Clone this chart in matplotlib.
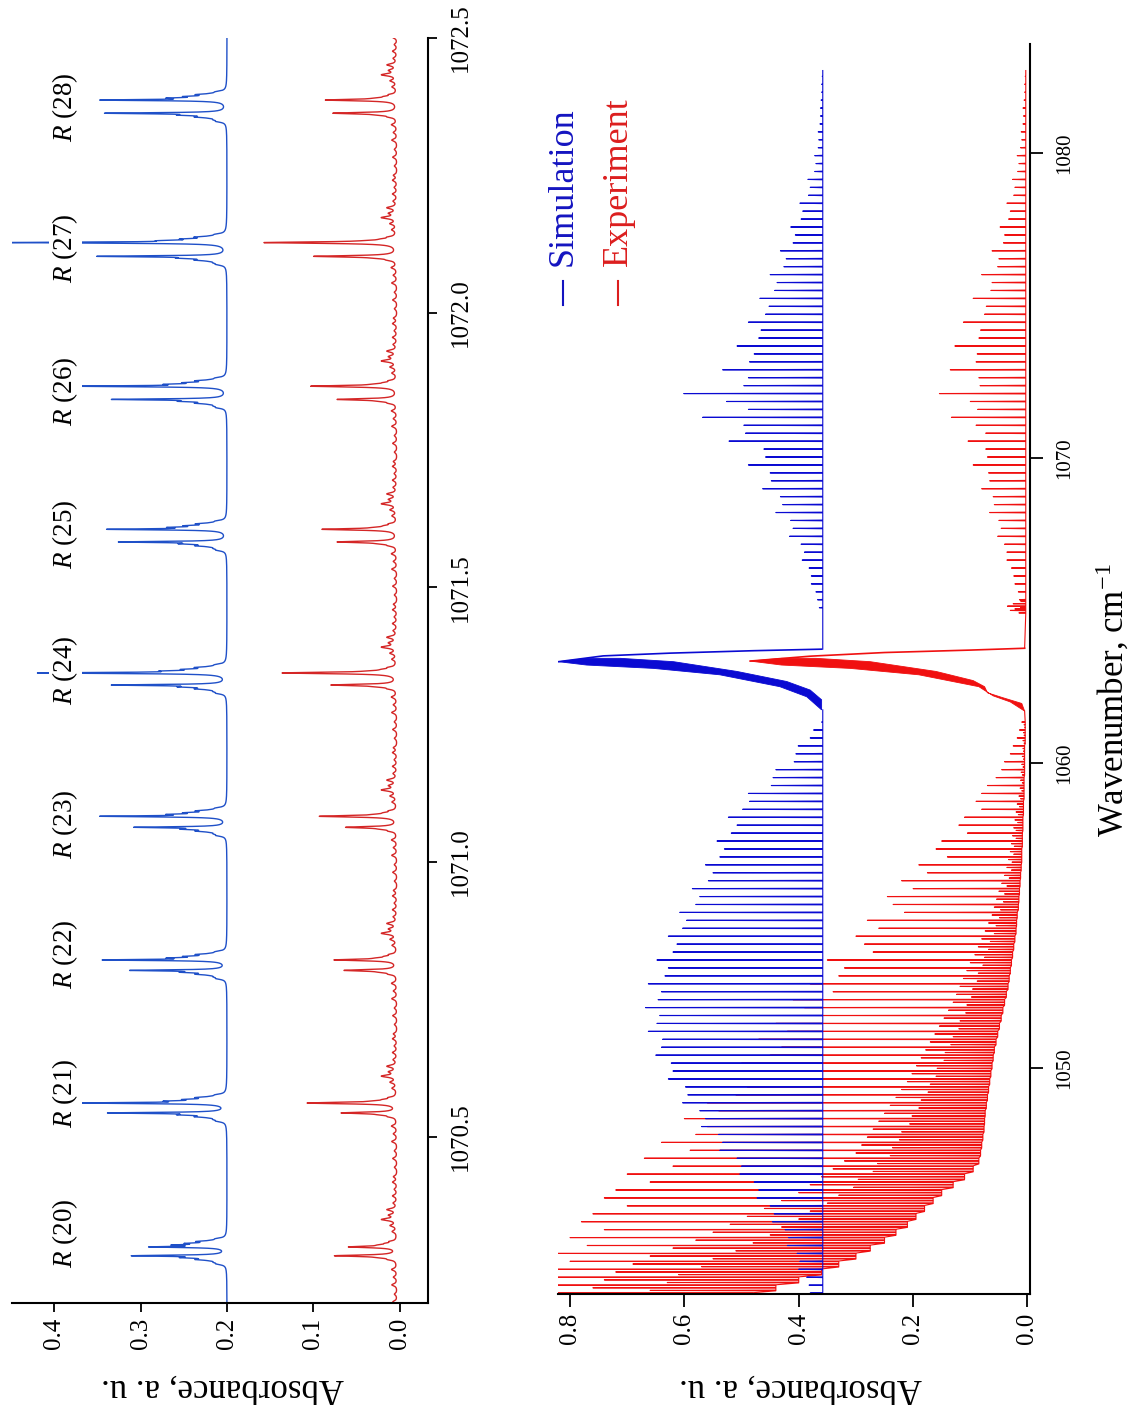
import numpy as np
import matplotlib
matplotlib.use("Agg")
import matplotlib.pyplot as plt
from matplotlib.lines import Line2D

plt.rcParams['font.family'] = ['Liberation Serif', 'DejaVu Serif']
plt.rcParams['mathtext.fontset'] = 'custom'
plt.rcParams['mathtext.rm'] = 'Liberation Serif'
plt.rcParams['mathtext.it'] = 'Liberation Serif:italic'

# ===================== DATA : zoomed panel R(20)..R(28) =====================
R_LABELS = ['20', '21', '22', '23', '24', '25', '26', '27', '28']
R_CENTER_WN = [1070.291, 1070.552, 1070.812, 1071.073, 1071.333,
               1071.594, 1071.854, 1072.115, 1072.375]
LABEL_WN = [1070.323, 1070.578, 1070.831, 1071.069, 1071.349,
            1071.597, 1071.857, 1072.118, 1072.374]
R_SPLIT = [0.016, 0.018, 0.019, 0.020, 0.022, 0.023, 0.024, 0.025, 0.024]
SIM_ZOOM_OFFSET = 0.2
SIM_A_H = [0.081, 0.164, 0.135, 0.138, 0.210, 0.130, 0.168, 0.243, 0.138]
SIM_B_H = [0.103, 0.130, 0.105, 0.100, 0.126, 0.118, 0.126, 0.143, 0.134]
EXP_ZOOM_BASE = 0.003
EXP_A_H = [0.053, 0.101, 0.070, 0.087, 0.130, 0.084, 0.097, 0.151, 0.080]
EXP_B_H = [0.070, 0.062, 0.059, 0.057, 0.074, 0.067, 0.067, 0.094, 0.072]
SAT_HI_OFF = [0.0035, 0.0065, 0.010]
SAT_HI_H = [0.040, 0.026, 0.018]
EXP_SAT_HI_H = [0.012, 0.008, 0.006]
SAT_LO_OFF = [0.0035, 0.007]
SAT_LO_H = [0.030, 0.018]
EXP_SAT_LO_H = [0.010, 0.006]
PED_OFF = [0.003, 0.006, 0.009, 0.012, 0.015]
PED_H = 0.008
NOISE_OFF = [-0.125, -0.108, -0.092, -0.078, -0.061, -0.047, -0.033,
             0.036, 0.047, 0.058, 0.066, 0.076, 0.088, 0.101, 0.113, 0.126]
NOISE_H = [0.004, 0.003, 0.005, 0.003, 0.006, 0.004, 0.006,
           0.005, 0.007, 0.017, 0.008, 0.011, 0.004, 0.005, 0.003, 0.005]

# ===================== DATA : survey panel =====================
SPEC_WN_RANGE = (1042.55, 1082.70)
SIM_BASE = 0.358
EXP_R_BASE = 0.003

# R branch (J = 0..67)
R_J = list(range(68))
R_ORIGIN, R_SPACING = 1065.09, 0.26
SIM_R_H = [0.006, 0.009, 0.012, 0.020, 0.020, 0.024, 0.036, 0.032, 0.038, 0.058,
           0.052, 0.056, 0.082, 0.070, 0.074, 0.105, 0.090, 0.092, 0.130, 0.100,
           0.103, 0.164, 0.135, 0.138, 0.210, 0.130, 0.168, 0.243, 0.138,
           0.130, 0.175, 0.128, 0.120, 0.150, 0.112, 0.108, 0.130, 0.100, 0.094, 0.110,
           0.084, 0.080, 0.092, 0.068, 0.064, 0.074, 0.052, 0.048, 0.056, 0.038,
           0.035, 0.040, 0.025, 0.022, 0.026, 0.014, 0.012, 0.014, 0.008, 0.007,
           0.008, 0.005, 0.004, 0.004, 0.003, 0.002, 0.002, 0.001]
EXP_R_TOP = [0.012, 0.014, 0.016, 0.022, 0.024, 0.028, 0.036, 0.036, 0.040, 0.052,
             0.046, 0.050, 0.066, 0.058, 0.060, 0.080, 0.066, 0.068, 0.095, 0.070,
             0.073, 0.104, 0.073, 0.090, 0.133, 0.087, 0.100, 0.154, 0.083,
             0.085, 0.135, 0.090, 0.088, 0.127, 0.085, 0.082, 0.112, 0.075, 0.072, 0.095,
             0.064, 0.062, 0.080, 0.052, 0.050, 0.062, 0.042, 0.040, 0.048, 0.033,
             0.030, 0.036, 0.024, 0.022, 0.026, 0.017, 0.015, 0.018, 0.012, 0.010,
             0.011, 0.008, 0.007, 0.008, 0.006, 0.005, 0.005, 0.004]
EXP_BUMP_WN = [1064.92, 1065.00, 1065.05, 1065.14, 1065.22, 1065.31]
EXP_BUMP_H = [0.015, 0.030, 0.022, 0.035, 0.025, 0.012]

# P branch (73 lines, going down from the Q branch)
P_FIRST, P_SPACING = 1061.34, 0.26
SIM_P_H = [0.002, 0.016, 0.022, 0.043, 0.047, 0.050, 0.082, 0.087, 0.090, 0.130,
           0.128, 0.140, 0.165, 0.150, 0.160, 0.185, 0.172, 0.180, 0.205, 0.192,
           0.200, 0.228, 0.215, 0.222, 0.250, 0.238, 0.245, 0.270, 0.255, 0.262,
           0.290, 0.270, 0.276, 0.305, 0.282, 0.288, 0.310, 0.285, 0.290, 0.305,
           0.280, 0.282, 0.292, 0.265, 0.262, 0.270, 0.240, 0.236, 0.245, 0.215,
           0.205, 0.212, 0.182, 0.175, 0.180, 0.150, 0.142, 0.145, 0.120, 0.112,
           0.115, 0.092, 0.085, 0.088, 0.066, 0.060, 0.062, 0.045, 0.040, 0.042,
           0.028, 0.024, 0.022]
EXP_P_TOP = [0.010, 0.014, 0.018, 0.025, 0.030, 0.040, 0.045, 0.055, 0.070, 0.080,
             0.090, 0.080, 0.110, 0.120, 0.105, 0.150, 0.160, 0.140, 0.190, 0.175,
             0.220, 0.200, 0.245, 0.235, 0.215, 0.280, 0.260, 0.300, 0.285, 0.270,
             0.350, 0.320, 0.330, 0.380, 0.340, 0.410, 0.390, 0.360, 0.440, 0.420,
             0.470, 0.430, 0.450, 0.500, 0.460, 0.530, 0.490, 0.510, 0.560, 0.540,
             0.600, 0.560, 0.580, 0.640, 0.590, 0.670, 0.620, 0.700, 0.660, 0.720,
             0.740, 0.700, 0.760, 0.780, 0.740, 0.800, 0.770, 0.830, 0.800, 0.840,
             0.850, 0.830, 0.860]
EXP_P_HOT1 = [0.006, 0.007, 0.008, 0.008, 0.009, 0.010, 0.011, 0.012, 0.013, 0.015,
              0.018, 0.020, 0.022, 0.024, 0.026, 0.028, 0.030, 0.033, 0.036, 0.040,
              0.045, 0.050, 0.054, 0.058, 0.062, 0.068, 0.074, 0.080, 0.086, 0.092,
              0.100, 0.106, 0.112, 0.118, 0.124, 0.130, 0.138, 0.146, 0.154, 0.162,
              0.170, 0.178, 0.186, 0.194, 0.202, 0.210, 0.220, 0.230, 0.240, 0.250,
              0.260, 0.270, 0.280, 0.290, 0.300, 0.320, 0.340, 0.360, 0.380, 0.400,
              0.430, 0.460, 0.490, 0.520, 0.550, 0.580, 0.620, 0.660, 0.690, 0.720,
              0.740, 0.760, 0.780]
EXP_P_HOT2 = [0.005, 0.006, 0.006, 0.007, 0.007, 0.008, 0.009, 0.009, 0.010, 0.012,
              0.014, 0.016, 0.017, 0.020, 0.020, 0.023, 0.024, 0.027, 0.028, 0.032,
              0.036, 0.040, 0.042, 0.047, 0.049, 0.055, 0.058, 0.065, 0.068, 0.075,
              0.078, 0.086, 0.088, 0.096, 0.098, 0.106, 0.108, 0.118, 0.120, 0.130,
              0.134, 0.144, 0.146, 0.158, 0.160, 0.170, 0.174, 0.186, 0.190, 0.202,
              0.206, 0.220, 0.224, 0.236, 0.240, 0.262, 0.270, 0.296, 0.304, 0.330,
              0.350, 0.380, 0.400, 0.430, 0.450, 0.480, 0.510, 0.550, 0.570, 0.610,
              0.630, 0.660, 0.680]
EXP_P_LOW = [0.004, 0.004, 0.004, 0.005, 0.005, 0.005, 0.005, 0.006, 0.006, 0.006,
             0.007, 0.007, 0.008, 0.008, 0.009, 0.009, 0.010, 0.010, 0.011, 0.012,
             0.013, 0.014, 0.015, 0.016, 0.018, 0.019, 0.020, 0.022, 0.024, 0.026,
             0.028, 0.030, 0.032, 0.034, 0.037, 0.040, 0.043, 0.046, 0.049, 0.052,
             0.055, 0.058, 0.060, 0.062, 0.064, 0.066, 0.068, 0.070, 0.072, 0.074,
             0.075, 0.076, 0.078, 0.080, 0.082, 0.085, 0.095, 0.110, 0.130, 0.150,
             0.165, 0.180, 0.195, 0.210, 0.230, 0.250, 0.275, 0.300, 0.330, 0.360,
             0.400, 0.440, 0.480]

# Q branch outlines (wavenumber, absorbance)
SIM_Q_BAND_WN = [1061.74, 1062.17, 1062.50, 1062.89, 1063.10, 1063.21, 1063.32,
                 1063.43, 1063.43, 1063.32, 1063.00, 1062.67, 1062.39, 1062.07]
SIM_Q_BAND_A = [0.360, 0.386, 0.433, 0.538, 0.654, 0.771, 0.820,
                0.771, 0.712, 0.619, 0.508, 0.421, 0.380, 0.360]
SIM_Q_HEAD_WN = [1063.32, 1063.51, 1063.60, 1063.68, 1063.73]
SIM_Q_HEAD_A = [0.820, 0.742, 0.625, 0.479, 0.360]
EXP_Q_BAND_WN = [1061.70, 1062.00, 1062.20, 1062.50, 1062.89, 1063.10, 1063.21, 1063.34,
                 1063.43, 1063.43, 1063.32, 1063.00, 1062.70, 1062.50, 1062.30,
                 1062.15, 1061.95]
EXP_Q_BAND_A = [0.005, 0.030, 0.060, 0.085, 0.190, 0.310, 0.430, 0.485,
                0.430, 0.370, 0.275, 0.160, 0.095, 0.075, 0.070, 0.045, 0.010]
EXP_Q_HEAD_WN = [1063.34, 1063.50, 1063.62, 1063.70, 1063.76]
EXP_Q_HEAD_A = [0.485, 0.380, 0.250, 0.100, 0.005]

# ===================== helpers =====================
def lor(nu, c, h, g):
    return h / (1.0 + ((nu - c) / g) ** 2)


def spike_path(pos, tops, lows, eps):
    pts = sorted(zip(pos, tops, lows))
    xs, ys = [], []
    for p, t, l in pts:
        xs += [p - eps, p, p + eps]
        ys += [l, t, l]
    return np.array(xs), np.array(ys)


BLUE_L, RED_L = '#1f50c8', '#d42626'
BLUE_R, RED_R = '#0a0ad2', '#f01010'

W, H = 1134, 1405
fig = plt.figure(figsize=(W / 100, H / 100), dpi=100)


def box(x0, y0, x1, y1):
    return [x0 / W, 1 - y1 / H, (x1 - x0) / W, (y1 - y0) / H]


axL = fig.add_axes(box(12, 38, 428, 1303))
axR = fig.add_axes(box(558, 44, 1030, 1294))

# ---------------- zoomed panel ----------------
YL = (1070.197, 1072.5)
nu = np.linspace(YL[0], YL[1], 14000)
sim = np.full_like(nu, SIM_ZOOM_OFFSET)
exp = np.full_like(nu, EXP_ZOOM_BASE)
G_MAIN, G_PED, G_EXP, G_NOISE = 0.0012, 0.0018, 0.0016, 0.0025
for c, sp, sa, sb, ea, eb in zip(R_CENTER_WN, R_SPLIT, SIM_A_H, SIM_B_H, EXP_A_H, EXP_B_H):
    a, b = c + sp / 2, c - sp / 2
    sim += lor(nu, a, sa, G_MAIN) + lor(nu, b, sb, G_MAIN)
    exp += lor(nu, a, ea, G_EXP) + lor(nu, b, eb, G_EXP)
    for o, h, he in zip(SAT_HI_OFF, SAT_HI_H, EXP_SAT_HI_H):
        sim += lor(nu, a + o, h, G_MAIN)
        exp += lor(nu, a + o, he, G_EXP)
    for o, h, he in zip(SAT_LO_OFF, SAT_LO_H, EXP_SAT_LO_H):
        sim += lor(nu, b - o, h, G_MAIN)
        exp += lor(nu, b - o, he, G_EXP)
    for o in PED_OFF:
        sim += lor(nu, a + o, PED_H, G_PED) + lor(nu, b - o, PED_H, G_PED)
    for o, h in zip(NOISE_OFF, NOISE_H):
        exp += lor(nu, c + o, h, G_NOISE)

axL.plot(exp, nu, color=RED_L, lw=1.0)
axL.plot(sim, nu, color=BLUE_L, lw=1.0)
for lab, wn in zip(R_LABELS, LABEL_WN):
    axL.text(0.387, wn, r'$\it{R}$ (' + lab + ')', rotation=90, ha='center', va='center',
             fontsize=19.5, zorder=5,
             bbox=dict(facecolor='white', edgecolor='none', pad=1.0))
axL.set_xlim(0.4486, -0.0324)
axL.set_ylim(*YL)
axL.set_xticks([0.0, 0.1, 0.2, 0.3, 0.4])
axL.set_xticklabels(['%.1f' % v for v in [0.0, 0.1, 0.2, 0.3, 0.4]])
axL.set_yticks([1070.5, 1071.0, 1071.5, 1072.0, 1072.5])
axL.set_yticklabels(['%.1f' % v for v in [1070.5, 1071.0, 1071.5, 1072.0, 1072.5]])

# ---------------- survey panel ----------------
p_pos = [P_FIRST - P_SPACING * i for i in range(len(SIM_P_H))]
r_pos = [R_ORIGIN + R_SPACING * j for j in R_J]
EPS = 0.012

# simulation, P part
xs, ys = spike_path(p_pos, [SIM_BASE + h for h in SIM_P_H], [SIM_BASE] * len(p_pos), EPS)
xs = np.concatenate([[SPEC_WN_RANGE[0]], xs, [SIM_Q_BAND_WN[0]]])
ys = np.concatenate([[SIM_BASE], ys, [SIM_BASE]])
# experiment, P part (main line + two hot-band lines per interval)
e_pos, e_top, e_low = [], [], []
for p, t, h1, h2, l in zip(p_pos, EXP_P_TOP, EXP_P_HOT1, EXP_P_HOT2, EXP_P_LOW):
    e_pos += [p, p - P_SPACING / 3, p - 2 * P_SPACING / 3]
    e_top += [t, h1, h2]
    e_low += [l, l, l]
exs, eys = spike_path(e_pos, e_top, e_low, EPS)
exs = np.concatenate([exs, [EXP_Q_BAND_WN[0]]])
eys = np.concatenate([eys, [EXP_Q_BAND_A[0]]])
axR.plot(eys, exs, color=RED_R, lw=0.8)

# experiment R part
r_all = r_pos + EXP_BUMP_WN
r_top = EXP_R_TOP + EXP_BUMP_H
rxs, rys = spike_path(r_all, r_top, [EXP_R_BASE] * len(r_all), EPS)
rxs = np.concatenate([[EXP_Q_HEAD_WN[-1]], rxs, [SPEC_WN_RANGE[1]]])
rys = np.concatenate([[EXP_Q_HEAD_A[-1]], rys, [EXP_R_BASE]])
axR.plot(rys, rxs, color=RED_R, lw=0.8)
axR.fill(EXP_Q_BAND_A, EXP_Q_BAND_WN, color=RED_R, lw=0.6)
axR.plot(EXP_Q_HEAD_A, EXP_Q_HEAD_WN, color=RED_R, lw=1.2)

axR.plot(ys, xs, color=BLUE_R, lw=0.8)
sxs, sys_ = spike_path(r_pos, [SIM_BASE + h for h in SIM_R_H], [SIM_BASE] * len(r_pos), EPS)
sxs = np.concatenate([[SIM_Q_HEAD_WN[-1]], sxs, [SPEC_WN_RANGE[1]]])
sys_ = np.concatenate([[SIM_BASE], sys_, [SIM_BASE]])
axR.plot(sys_, sxs, color=BLUE_R, lw=0.8)
axR.fill(SIM_Q_BAND_A, SIM_Q_BAND_WN, color=BLUE_R, lw=0.6)
axR.plot(SIM_Q_HEAD_A, SIM_Q_HEAD_WN, color=BLUE_R, lw=1.2)

axR.set_xlim(0.821, -0.0044)
axR.set_ylim(1042.59, 1083.57)
axR.set_xticks([0.0, 0.2, 0.4, 0.6, 0.8])
axR.set_xticklabels(['%.1f' % v for v in [0.0, 0.2, 0.4, 0.6, 0.8]])
axR.set_yticks([1050, 1060, 1070, 1080])
axR.set_yticklabels(['%d' % v for v in [1050, 1060, 1070, 1080]])

# ---------------- axes styling ----------------
for ax, tl, ysize, ypad in ((axL, 9, 18, 9), (axR, 13, 15, 9)):
    ax.spines['top'].set_visible(False)
    ax.spines['left'].set_visible(False)
    for s in ('bottom', 'right'):
        ax.spines[s].set_linewidth(1.5)
    ax.yaxis.tick_right()
    ax.xaxis.tick_bottom()
    ax.tick_params(axis='both', direction='out', length=tl * 0.72, width=1.3)
    ax.tick_params(axis='x', labelsize=18, labelrotation=90, pad=4)
    ax.tick_params(axis='y', labelsize=ysize, labelrotation=90, pad=ypad)
    for lbl in ax.get_yticklabels():
        lbl.set_va('center')
    ax.set_facecolor('none')

axL.set_xlabel('Absorbance, a. u.', fontsize=25, rotation=180, ha='center', va='center')
axL.xaxis.set_label_coords(0.505, -0.0672)
axR.set_xlabel('Absorbance, a. u.', fontsize=25, rotation=180, ha='center', va='center')
axR.xaxis.set_label_coords(0.513, -0.0752)
axR.yaxis.set_label_position('right')
axR.set_ylabel(r'Wavenumber, cm$^{-1}$', fontsize=25, rotation=90, ha='center', va='center')
axR.yaxis.set_label_coords(1.176, 0.4752)

# ---------------- legend (drawn rotated) ----------------
for (xc, col, txt) in ((563, '#1414c0', 'Simulation'), (618, '#dc1e1e', 'Experiment')):
    fig.add_artist(Line2D([xc / W, xc / W], [1 - 305 / H, 1 - 281 / H],
                          color=col, lw=1.5, transform=fig.transFigure))
    fig.text(xc / W, 1 - 266 / H, txt, rotation=90, rotation_mode='anchor',
             ha='left', va='center', fontsize=26, color=col)

fig.savefig('out.png', dpi=100, facecolor='white')
